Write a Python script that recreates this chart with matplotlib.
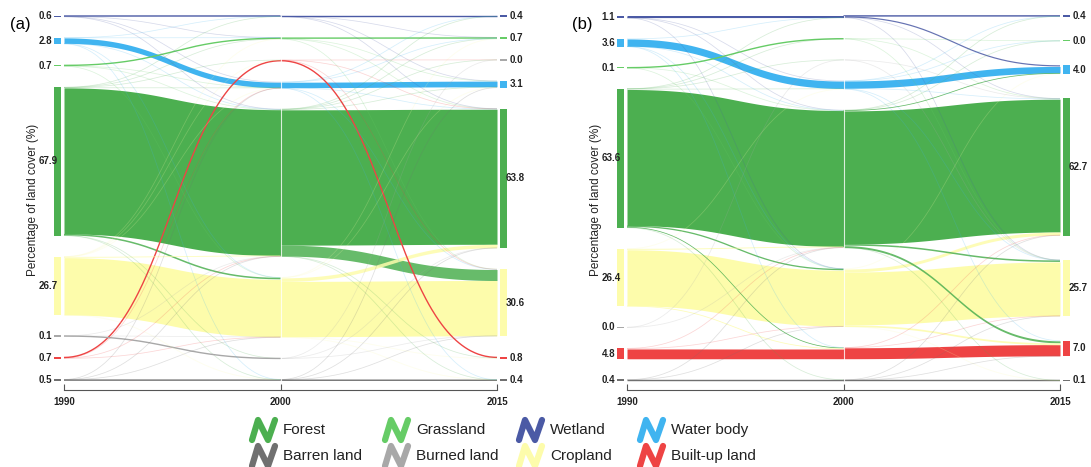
import numpy as np
import matplotlib
matplotlib.use('Agg')
import matplotlib.pyplot as plt
from matplotlib.patches import Rectangle

plt.rcParams['font.family'] = ['Liberation Sans', 'DejaVu Sans']

# categories and colours
cats = ['forest', 'grass', 'wetland', 'water', 'barren', 'burned', 'crop', 'urban']
names = ['Forest', 'Grassland', 'Wetland', 'Water body',
         'Barren land', 'Burned land', 'Cropland', 'Built-up land']
colors = {'forest': '#4CAF50', 'grass': '#66CC66', 'wetland': '#4B5AA5',
          'water': '#40B4F0', 'barren': '#707070', 'burned': '#A8A8A8',
          'crop': '#FDFCAB', 'urban': '#EE4444'}

years = ['1990', '2000', '2015']

# ---- panel (a) ----
order_a_1990 = ['wetland', 'water', 'grass', 'forest', 'crop', 'burned', 'urban', 'barren']
vals_a_1990 = [0.6, 2.8, 0.7, 67.9, 26.7, 0.1, 0.7, 0.5]
order_a_2000 = ['wetland', 'grass', 'urban', 'water', 'forest', 'crop', 'burned', 'barren']
vals_a_2000 = [0.5, 0.7, 0.5, 2.8, 67.4, 27.4, 0.1, 0.5]
order_a_2015 = ['wetland', 'grass', 'burned', 'water', 'forest', 'crop', 'urban', 'barren']
vals_a_2015 = [0.4, 0.7, 0.03, 3.1, 63.8, 30.6, 0.8, 0.4]

flows_a_1 = [
    ('wetland', 'wetland', 0.45), ('wetland', 'water', 0.05), ('wetland', 'forest', 0.05), ('wetland', 'grass', 0.03),
    ('water', 'water', 2.5), ('water', 'wetland', 0.03), ('water', 'forest', 0.12), ('water', 'crop', 0.1),
    ('water', 'grass', 0.03), ('water', 'barren', 0.02),
    ('grass', 'grass', 0.55), ('grass', 'forest', 0.08), ('grass', 'crop', 0.05), ('grass', 'water', 0.02),
    ('forest', 'forest', 66.7), ('forest', 'crop', 0.7), ('forest', 'water', 0.12), ('forest', 'grass', 0.08),
    ('forest', 'wetland', 0.03), ('forest', 'urban', 0.05), ('forest', 'burned', 0.05), ('forest', 'barren', 0.05),
    ('crop', 'crop', 26.2), ('crop', 'forest', 0.3), ('crop', 'urban', 0.1), ('crop', 'water', 0.05),
    ('crop', 'grass', 0.03), ('crop', 'barren', 0.02),
    ('burned', 'burned', 0.05), ('burned', 'forest', 0.03), ('burned', 'crop', 0.02),
    ('urban', 'urban', 0.4), ('urban', 'crop', 0.2), ('urban', 'forest', 0.05), ('urban', 'water', 0.03),
    ('barren', 'barren', 0.4), ('barren', 'forest', 0.05), ('barren', 'crop', 0.03), ('barren', 'water', 0.02),
]
flows_a_2 = [
    ('wetland', 'wetland', 0.35), ('wetland', 'water', 0.08), ('wetland', 'forest', 0.04), ('wetland', 'grass', 0.03),
    ('grass', 'grass', 0.55), ('grass', 'forest', 0.08), ('grass', 'crop', 0.05), ('grass', 'water', 0.02),
    ('urban', 'urban', 0.4), ('urban', 'crop', 0.05), ('urban', 'forest', 0.03), ('urban', 'burned', 0.02),
    ('water', 'water', 2.5), ('water', 'forest', 0.12), ('water', 'crop', 0.1), ('water', 'wetland', 0.03),
    ('water', 'grass', 0.03), ('water', 'barren', 0.02),
    ('forest', 'forest', 61.9), ('forest', 'crop', 5.0), ('forest', 'water', 0.2), ('forest', 'urban', 0.15),
    ('forest', 'grass', 0.06), ('forest', 'wetland', 0.02), ('forest', 'burned', 0.02), ('forest', 'barren', 0.05),
    ('crop', 'crop', 25.2), ('crop', 'forest', 1.6), ('crop', 'urban', 0.25), ('crop', 'water', 0.15),
    ('crop', 'grass', 0.05), ('crop', 'barren', 0.05),
    ('burned', 'burned', 0.02), ('burned', 'forest', 0.05), ('burned', 'crop', 0.03),
    ('barren', 'barren', 0.3), ('barren', 'forest', 0.1), ('barren', 'crop', 0.05), ('barren', 'water', 0.03),
]

# ---- panel (b) ----
order_b_1990 = ['wetland', 'water', 'grass', 'forest', 'crop', 'burned', 'urban', 'barren']
vals_b_1990 = [1.1, 3.6, 0.1, 63.6, 26.4, 0.03, 4.8, 0.4]
order_b_2000 = ['wetland', 'grass', 'burned', 'water', 'forest', 'crop', 'urban', 'barren']
vals_b_2000 = [1.0, 0.1, 0.03, 3.8, 62.9, 26.5, 5.1, 0.4]
order_b_2015 = ['wetland', 'grass', 'water', 'forest', 'crop', 'urban', 'barren']
vals_b_2015 = [0.4, 0.03, 4.0, 62.7, 25.7, 7.0, 0.1]

flows_b_1 = [
    ('wetland', 'wetland', 0.95), ('wetland', 'water', 0.08), ('wetland', 'forest', 0.05), ('wetland', 'crop', 0.02),
    ('water', 'water', 3.35), ('water', 'forest', 0.1), ('water', 'crop', 0.08), ('water', 'wetland', 0.04),
    ('water', 'urban', 0.03),
    ('grass', 'grass', 0.07), ('grass', 'forest', 0.02), ('grass', 'crop', 0.01),
    ('forest', 'forest', 62.2), ('forest', 'crop', 0.6), ('forest', 'urban', 0.35), ('forest', 'water', 0.25),
    ('forest', 'grass', 0.03), ('forest', 'wetland', 0.03), ('forest', 'burned', 0.02), ('forest', 'barren', 0.05),
    ('crop', 'crop', 25.6), ('crop', 'forest', 0.4), ('crop', 'urban', 0.3), ('crop', 'water', 0.1),
    ('burned', 'burned', 0.02), ('burned', 'forest', 0.01),
    ('urban', 'urban', 4.5), ('urban', 'crop', 0.2), ('urban', 'forest', 0.1),
    ('barren', 'barren', 0.35), ('barren', 'forest', 0.03), ('barren', 'crop', 0.02),
]
flows_b_2 = [
    ('wetland', 'wetland', 0.38), ('wetland', 'water', 0.55), ('wetland', 'forest', 0.05), ('wetland', 'crop', 0.02),
    ('grass', 'grass', 0.03), ('grass', 'forest', 0.05), ('grass', 'crop', 0.02),
    ('burned', 'forest', 0.02), ('burned', 'crop', 0.01),
    ('water', 'water', 3.3), ('water', 'forest', 0.2), ('water', 'crop', 0.15), ('water', 'urban', 0.1),
    ('water', 'wetland', 0.02), ('water', 'grass', 0.01),
    ('forest', 'forest', 60.8), ('forest', 'crop', 0.7), ('forest', 'urban', 0.9), ('forest', 'water', 0.3),
    ('forest', 'wetland', 0.02), ('forest', 'barren', 0.03), ('forest', 'grass', 0.01),
    ('crop', 'crop', 24.8), ('crop', 'forest', 1.4), ('crop', 'urban', 0.8), ('crop', 'water', 0.2),
    ('crop', 'barren', 0.02),
    ('urban', 'urban', 5.0), ('urban', 'crop', 0.08), ('urban', 'forest', 0.02),
    ('barren', 'barren', 0.08), ('barren', 'forest', 0.2), ('barren', 'crop', 0.1), ('barren', 'urban', 0.02),
]

SPAN = 167.0          # vertical layout span (in % units)
PX = 2.186            # pixels per % unit
W, H = 1091, 467


def layout(order, vals):
    gap = (SPAN - sum(vals)) / (len(vals) - 1)
    res = {}
    y = 0.0
    for c, v in zip(order, vals):
        res[c] = (y, v)
        y += v + gap
    return res


def bez(x0, x1, y0, y1, xg):
    t = np.linspace(0, 1, 80)
    xm = (x0 + x1) / 2
    xs = x0 * (1 - t) ** 3 + 3 * xm * t * (1 - t) ** 2 + 3 * xm * t ** 2 * (1 - t) + x1 * t ** 3
    ys = y0 * (1 - t) ** 3 + 3 * y0 * t * (1 - t) ** 2 + 3 * y1 * t ** 2 * (1 - t) + y1 * t ** 3
    return np.interp(xg, xs, ys)


def draw_flows(ax, flows, x0, src_order, src_lay, dst_order, dst_lay):
    pos = {}
    for s in src_order:
        outs = sorted([f for f in flows if f[0] == s], key=lambda f: dst_order.index(f[1]))
        tot = sum(f[2] for f in outs)
        y, v = src_lay[s]
        for f in outs:
            h = f[2] / tot * v
            pos[(f[0], f[1])] = [y, y + h]
            y += h
    for d in dst_order:
        ins = sorted([f for f in flows if f[1] == d], key=lambda f: src_order.index(f[0]))
        tot = sum(f[2] for f in ins)
        y, v = dst_lay[d]
        for f in ins:
            h = f[2] / tot * v
            pos[(f[0], f[1])] += [y, y + h]
            y += h

    xg = np.linspace(x0, x0 + 1, 150)
    for s, d, val in sorted(flows, key=lambda f: -f[2]):
        t0, b0, t1, b1 = pos[(s, d)]
        col = colors[s]
        main = (s == d and val >= 0.05)
        if main:
            alpha = 1.0
        elif val >= 0.3:
            alpha = 0.85
        else:
            alpha = 0.22
        hpx = max(b0 - t0, b1 - t1) * PX
        if hpx > 1.6:
            ax.fill_between(xg, bez(x0, x0 + 1, t0, t1, xg), bez(x0, x0 + 1, b0, b1, xg),
                            color=col, alpha=alpha, lw=0, zorder=2)
        else:
            lw = max(1.0 if main else 0.55, hpx * 0.72)
            ax.plot(xg, bez(x0, x0 + 1, (t0 + b0) / 2, (t1 + b1) / 2, xg),
                    color=col, alpha=alpha, lw=lw, zorder=2, solid_capstyle='butt')


def draw_nodes(ax, order, vals, side):
    lay = layout(order, vals)
    for c, v in zip(order, vals):
        top, h = lay[c]
        hh = max(h, 0.6)
        yc = top + h / 2
        if side == 'left':
            ax.add_patch(Rectangle((-0.046, yc - hh / 2), 0.032, hh, color=colors[c], lw=0, zorder=4))
            lx = -0.03 if v > 10 else -0.054
            ax.text(lx, yc, f'{v:.1f}', ha='right', va='center', fontsize=7,
                    fontweight='bold', color='#222222', zorder=5)
        else:
            ax.add_patch(Rectangle((2.014, yc - hh / 2), 0.032, hh, color=colors[c], lw=0, zorder=4))
            lx = 2.038 if v > 10 else 2.058
            ax.text(lx, yc, f'{v:.1f}', ha='left', va='center', fontsize=7,
                    fontweight='bold', color='#222222', zorder=5)


def panel(ax, orders, vals, flows):
    lays = [layout(o, v) for o, v in zip(orders, vals)]
    draw_flows(ax, flows[0], 0, orders[0], lays[0], orders[1], lays[1])
    draw_flows(ax, flows[1], 1, orders[1], lays[1], orders[2], lays[2])
    ax.plot([1, 1], [0, SPAN], color='white', lw=0.8, alpha=0.8, zorder=3)
    draw_nodes(ax, orders[0], vals[0], 'left')
    draw_nodes(ax, orders[2], vals[2], 'right')

    ax.set_ylim((390 - 15.5) / PX, -(15.5 - 5) / PX)
    ax.set_xticks([0, 1, 2])
    ax.set_xticklabels(years, fontsize=7, fontweight='bold', color='#222222')
    ax.tick_params(axis='x', direction='in', length=4, width=0.8, color='#555555', pad=5)
    ax.set_yticks([])
    for sp in ['left', 'top', 'right']:
        ax.spines[sp].set_visible(False)
    ax.spines['bottom'].set_bounds(0, 2)
    ax.spines['bottom'].set_color('#555555')
    ax.spines['bottom'].set_linewidth(0.8)
    ax.text(-0.145, 84.4, 'Percentage of land cover (%)', rotation=90, ha='center',
            va='center', fontsize=8.5, color='#222222')


fig = plt.figure(figsize=(W / 100, H / 100), dpi=100)

ax_a = fig.add_axes([20 / W, (H - 390) / H, 510 / W, 385 / H])
ax_a.set_xlim(-(64 - 20) / 216.5, 2 + (530 - 497) / 216.5)
panel(ax_a, [order_a_1990, order_a_2000, order_a_2015],
      [vals_a_1990, vals_a_2000, vals_a_2015], [flows_a_1, flows_a_2])

ax_b = fig.add_axes([583 / W, (H - 390) / H, 502 / W, 385 / H])
ax_b.set_xlim(-(627 - 583) / 216.5, 2 + (1085 - 1060) / 216.5)
panel(ax_b, [order_b_1990, order_b_2000, order_b_2015],
      [vals_b_1990, vals_b_2000, vals_b_2015], [flows_b_1, flows_b_2])

fig.text(20 / W, 1 - 24 / H, '(a)', ha='center', va='center', fontsize=12)
fig.text(582 / W, 1 - 24 / H, '(b)', ha='center', va='center', fontsize=12)

# legend with N-shaped icons
lg = fig.add_axes([0, 0, 1, 62 / H])
lg.set_xlim(0, W)
lg.set_ylim(467, 405)
lg.axis('off')
col_x = [250, 383, 517, 638]
row_y = [430, 456]
leg_order = [['forest', 'grass', 'wetland', 'water'], ['barren', 'burned', 'crop', 'urban']]
for r, row in enumerate(leg_order):
    for c, key in enumerate(row):
        x0, yc = col_x[c], row_y[r]
        xs = [x0 + 2, x0 + 8, x0 + 18, x0 + 25]
        ys = [yc + 10, yc - 10, yc + 10, yc - 10]
        lg.plot(xs, ys, color=colors[key], lw=4.5, solid_capstyle='round', solid_joinstyle='round')
        lg.text(x0 + 33, yc, names[cats.index(key)], ha='left', va='center', fontsize=11, color='#222222')

fig.savefig('out.png', dpi=100)
